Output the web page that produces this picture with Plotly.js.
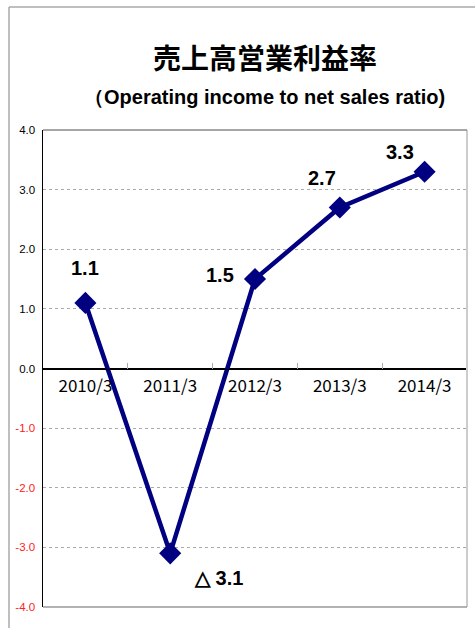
<!DOCTYPE html>
<html>
<head>
<meta charset="utf-8">
<script src="https://cdn.plot.ly/plotly-3.0.1.min.js"></script>
<style>html,body{margin:0;padding:0;background:#fff;}#chart{width:475px;height:628px;}</style>
</head>
<body>
<div id="chart"></div>
<script>
const categories = ["2010/3", "2011/3", "2012/3", "2013/3", "2014/3"];
const values = [1.1, -3.1, 1.5, 2.7, 3.3];
const valueLabels = ["1.1", "△ 3.1", "1.5", "2.7", "3.3"];
const yTickVals = [4, 3, 2, 1, 0, -1, -2, -3, -4];
const yTickText = ["4.0", "3.0", "2.0", "1.0", "0.0", "-1.0", "-2.0", "-3.0", "-4.0"];

const labelShift = [[0, 35], [48, -25], [-35, 4], [-18, 30], [-25, 20]];

const annotations = values.map((v, i) => ({
  x: categories[i], y: v, xref: 'x', yref: 'y',
  text: valueLabels[i], showarrow: false,
  xshift: labelShift[i][0], yshift: labelShift[i][1],
  font: {family: 'Liberation Sans, Arial, sans-serif', size: 20, color: '#000', weight: 'bold'}
}));

annotations.push({
  xref: 'paper', yref: 'paper', x: 0.523, y: 1.153, xanchor: 'center', yanchor: 'middle',
  text: '<b>売上高営業利益率</b>', showarrow: false,
  font: {family: 'Noto Sans CJK JP, sans-serif', size: 28, color: '#000'}
});
annotations.push({
  xref: 'paper', yref: 'paper', x: 0.523, y: 1.069, xanchor: 'center', yanchor: 'middle',
  text: '<b>（Operating income to net sales ratio)</b>', showarrow: false,
  font: {family: 'Liberation Sans, Arial, sans-serif', size: 20, color: '#000'}
});

const tickTextColored = yTickText.map((t, i) => yTickVals[i] < 0 ? '<span style="color:#ff2020">' + t + '</span>' : t);

const trace = {
  x: categories, y: values, type: 'scatter', mode: 'lines+markers',
  line: {color: '#000080', width: 4.5},
  marker: {symbol: 'diamond', size: 17, color: '#000080'},
  hoverinfo: 'skip', cliponaxis: false
};

const layout = {
  width: 475, height: 628,
  margin: {l: 43, r: 8, t: 130, b: 21},
  paper_bgcolor: '#fff', plot_bgcolor: '#fff',
  showlegend: false,
  font: {family: 'Liberation Sans, Arial, sans-serif'},
  xaxis: {
    type: 'category', anchor: 'free', position: 0.5,
    showline: true, linecolor: '#000', linewidth: 1.5,
    ticks: 'inside', tickson: 'boundaries', ticklen: 6, tickcolor: '#aaa', tickwidth: 1,
    showgrid: false, zeroline: false,
    tickfont: {family: 'Noto Sans CJK JP, sans-serif', size: 17, color: '#000'},
    ticklabelstandoff: 2,
    range: [-0.5, 4.5], fixedrange: true
  },
  yaxis: {
    range: [-4, 4], tickvals: yTickVals, ticktext: tickTextColored,
    showline: true, linecolor: '#000', linewidth: 1.5, mirror: false,
    showgrid: true, gridcolor: '#aaa', griddash: 'dot', gridwidth: 1,
    zeroline: true, zerolinecolor: '#000', zerolinewidth: 1.5,
    ticks: '', tickfont: {family: 'Liberation Sans, Arial, sans-serif', size: 11.5, color: '#000'},
    ticklabelstandoff: 4, fixedrange: true
  },
  shapes: [
    {type: 'line', xref: 'paper', yref: 'paper', x0: 1, x1: 1, y0: 0, y1: 1, line: {color: '#cccccc', width: 2}},
    {type: 'line', xref: 'paper', yref: 'paper', x0: 0, x1: 1, y0: 1, y1: 1, line: {color: '#888', width: 1.5}},
    {type: 'line', xref: 'paper', yref: 'paper', x0: 0, x1: 1, y0: 0, y1: 0, line: {color: '#999', width: 1.5}},
    {type: 'line', xref: 'paper', yref: 'paper', x0: -0.0802, x1: 1.03, y0: 1.258, y1: 1.258, line: {color: '#aaa', width: 1.5}},
    {type: 'line', xref: 'paper', yref: 'paper', x0: -0.0802, x1: -0.0802, y0: 1.258, y1: -0.06, line: {color: '#aaa', width: 1.5}}
  ],
  annotations: annotations
};

Plotly.newPlot('chart', [trace], layout, {displayModeBar: false, staticPlot: true});
</script>
</body>
</html>
